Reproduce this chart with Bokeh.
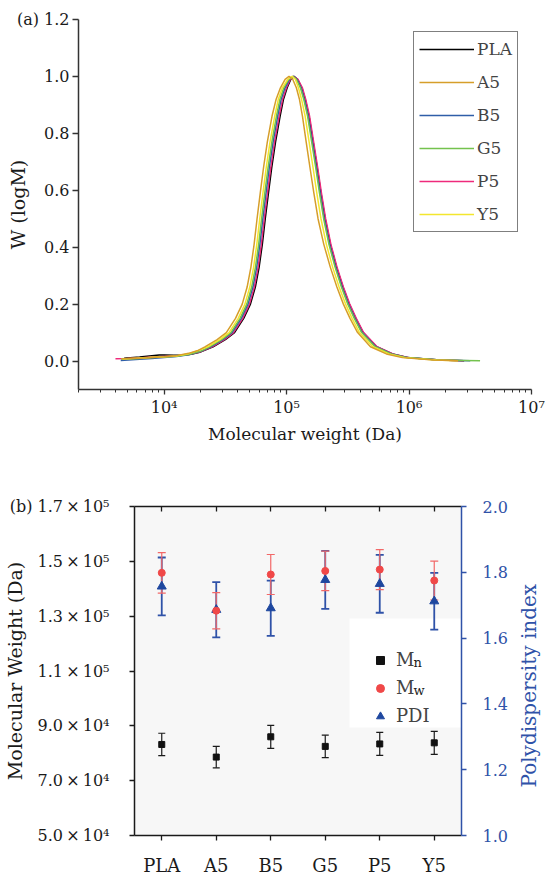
import math
from bokeh.plotting import figure
from bokeh.models import (FixedTicker, CustomJSTickFormatter, NumeralTickFormatter, Legend,
                          LegendItem, Label, LinearAxis, CategoricalAxis, Range1d, FactorRange,
                          Whisker, ColumnDataSource, TeeHead, BoxAnnotation, Title)
from bokeh.layouts import row
from bokeh.embed import file_html
from bokeh.resources import INLINE

# ---------------- data: panel (a) GPC curves, (log10 M, W(logM)) ----------------
pla = [(3.674, 0.010), (3.80, 0.014), (3.90, 0.019), (3.96, 0.021), (4.00, 0.021), (4.08, 0.020),
       (4.15, 0.020), (4.22, 0.024), (4.30, 0.032), (4.40, 0.050), (4.50, 0.075), (4.575, 0.10),
       (4.65, 0.15), (4.705, 0.20), (4.745, 0.26), (4.776, 0.33), (4.802, 0.41), (4.826, 0.50),
       (4.852, 0.59), (4.879, 0.68), (4.910, 0.77), (4.947, 0.86), (4.975, 0.92), (5.005, 0.96),
       (5.035, 0.99), (5.061, 1.00), (5.090, 0.99), (5.125, 0.96), (5.152, 0.92), (5.184, 0.86),
       (5.217, 0.77), (5.250, 0.68), (5.281, 0.59), (5.315, 0.50), (5.358, 0.41), (5.408, 0.33),
       (5.460, 0.26), (5.512, 0.20), (5.565, 0.15), (5.625, 0.10), (5.735, 0.05), (5.865, 0.025),
       (5.995, 0.012), (6.250, 0.004), (6.450, 0.001)]
a5 = [(3.65, 0.008), (3.80, 0.010), (3.90, 0.012), (4.00, 0.015), (4.10, 0.019), (4.20, 0.027),
      (4.27, 0.036), (4.333, 0.05), (4.433, 0.075), (4.508, 0.10), (4.583, 0.15), (4.638, 0.20),
      (4.678, 0.26), (4.709, 0.33), (4.735, 0.41), (4.759, 0.50), (4.785, 0.59), (4.812, 0.68),
      (4.843, 0.77), (4.881, 0.86), (4.915, 0.92), (4.950, 0.96), (4.988, 0.99), (5.020, 1.00),
      (5.050, 0.99), (5.080, 0.96), (5.105, 0.92), (5.130, 0.86), (5.160, 0.77), (5.191, 0.68),
      (5.223, 0.59), (5.257, 0.50), (5.304, 0.41), (5.357, 0.33), (5.411, 0.26), (5.464, 0.20),
      (5.518, 0.15), (5.580, 0.10), (5.685, 0.05), (5.815, 0.025), (5.945, 0.012), (6.20, 0.004),
      (6.40, 0.001)]
b5 = [(3.646, 0.002), (3.80, 0.006), (3.90, 0.009), (4.00, 0.012), (4.10, 0.016), (4.20, 0.022),
      (4.30, 0.034), (4.380, 0.05), (4.480, 0.075), (4.555, 0.10), (4.630, 0.15), (4.685, 0.20),
      (4.725, 0.26), (4.756, 0.33), (4.782, 0.41), (4.806, 0.50), (4.832, 0.59), (4.859, 0.68),
      (4.890, 0.77), (4.927, 0.86), (4.956, 0.92), (4.987, 0.96), (5.024, 0.99), (5.055, 1.00),
      (5.084, 0.99), (5.118, 0.96), (5.145, 0.92), (5.177, 0.86), (5.210, 0.77), (5.243, 0.68),
      (5.274, 0.59), (5.308, 0.50), (5.351, 0.41), (5.401, 0.33), (5.453, 0.26), (5.505, 0.20),
      (5.558, 0.15), (5.618, 0.10), (5.728, 0.05), (5.858, 0.025), (5.988, 0.012), (6.25, 0.004),
      (6.50, 0.001)]
g5 = [(3.65, 0.006), (3.80, 0.009), (3.90, 0.012), (4.00, 0.014), (4.10, 0.017), (4.20, 0.023),
      (4.30, 0.035), (4.370, 0.05), (4.470, 0.075), (4.545, 0.10), (4.620, 0.15), (4.675, 0.20),
      (4.715, 0.26), (4.746, 0.33), (4.772, 0.41), (4.796, 0.50), (4.822, 0.59), (4.849, 0.68),
      (4.880, 0.77), (4.917, 0.86), (4.946, 0.92), (4.977, 0.96), (5.017, 0.99), (5.050, 1.00),
      (5.080, 0.99), (5.113, 0.96), (5.140, 0.92), (5.172, 0.86), (5.205, 0.77), (5.238, 0.68),
      (5.269, 0.59), (5.303, 0.50), (5.346, 0.41), (5.396, 0.33), (5.448, 0.26), (5.500, 0.20),
      (5.553, 0.15), (5.613, 0.10), (5.723, 0.05), (5.853, 0.025), (5.983, 0.012), (6.25, 0.004),
      (6.45, 0.002), (6.58, 0.001)]
p5 = [(3.603, 0.008), (3.70, 0.009), (3.80, 0.011), (3.90, 0.014), (4.00, 0.016), (4.10, 0.018),
      (4.20, 0.023), (4.30, 0.033), (4.392, 0.05), (4.492, 0.075), (4.567, 0.10), (4.642, 0.15),
      (4.697, 0.20), (4.737, 0.26), (4.768, 0.33), (4.794, 0.41), (4.818, 0.50), (4.844, 0.59),
      (4.871, 0.68), (4.902, 0.77), (4.939, 0.86), (4.968, 0.92), (4.999, 0.96), (5.031, 0.99),
      (5.058, 1.00), (5.093, 0.99), (5.129, 0.96), (5.156, 0.92), (5.188, 0.86), (5.221, 0.77),
      (5.254, 0.68), (5.285, 0.59), (5.319, 0.50), (5.362, 0.41), (5.412, 0.33), (5.464, 0.26),
      (5.516, 0.20), (5.569, 0.15), (5.629, 0.10), (5.739, 0.05), (5.869, 0.025), (5.999, 0.012),
      (6.25, 0.004), (6.45, 0.001)]
y5 = [(3.66, 0.007), (3.80, 0.011), (3.90, 0.013), (4.00, 0.015), (4.10, 0.018), (4.20, 0.026),
      (4.30, 0.040), (4.355, 0.05), (4.455, 0.075), (4.530, 0.10), (4.605, 0.15), (4.660, 0.20),
      (4.700, 0.26), (4.731, 0.33), (4.757, 0.41), (4.781, 0.50), (4.807, 0.59), (4.834, 0.68),
      (4.865, 0.77), (4.903, 0.86), (4.933, 0.92), (4.965, 0.96), (5.010, 0.99), (5.045, 1.00),
      (5.072, 0.99), (5.097, 0.96), (5.122, 0.92), (5.152, 0.86), (5.184, 0.77), (5.216, 0.68),
      (5.247, 0.59), (5.281, 0.50), (5.325, 0.41), (5.376, 0.33), (5.429, 0.26), (5.482, 0.20),
      (5.535, 0.15), (5.595, 0.10), (5.705, 0.05), (5.835, 0.025), (5.965, 0.012), (6.22, 0.004),
      (6.40, 0.001)]

series_names = ["PLA", "A5", "B5", "G5", "P5", "Y5"]
series_data = [pla, a5, b5, g5, p5, y5]
series_colors = ["#000000", "#d69e2a", "#2f5ea8", "#74c24e", "#ee2a7b", "#f3e62e"]

w_ticks = [0.0, 0.2, 0.4, 0.6, 0.8, 1.0, 1.2]
m_major = [1e4, 1e5, 1e6, 1e7]
m_minor = [k * 10 ** d for d in (3, 4, 5, 6) for k in range(2, 10)]

# ---------------- data: panel (b) ----------------
cats = ["PLA", "A5", "B5", "G5", "P5", "Y5"]
mn = [83200, 78600, 86000, 82500, 83400, 83800]
mn_err = [4100, 3900, 4200, 4100, 4200, 4200]
mw = [145800, 132000, 145200, 146500, 147000, 143000]
mw_err = [7400, 6600, 7300, 7200, 7300, 7100]
pdi = [1.757, 1.686, 1.691, 1.777, 1.765, 1.712]
pdi_err = [0.088, 0.084, 0.084, 0.088, 0.088, 0.086]
mw_ticks = [5e4, 7e4, 9e4, 1.1e5, 1.3e5, 1.5e5, 1.7e5]
pdi_ticks = [1.0, 1.2, 1.4, 1.6, 1.8, 2.0]

SERIF = "DejaVu Serif"
AX = "#333333"
BLUE = "#2f52a8"
INK = "#1a1a1a"

# ================= panel (a) =================
p1 = figure(width=545, height=460, x_axis_type="log",
            x_range=Range1d(2000, 1e7), y_range=Range1d(-0.1, 1.2),
            output_backend="svg", toolbar_location=None,
            min_border_left=78, min_border_right=14, min_border_top=19, min_border_bottom=71)
p1.outline_line_color = None
p1.grid.visible = False

rmap = {}
draw_order = ["PLA", "P5", "B5", "G5", "Y5", "A5"]
lookup = {n: (d, c) for n, d, c in zip(series_names, series_data, series_colors)}
for name in draw_order:
    data, col = lookup[name]
    xs = [10 ** lm for lm, _ in data]
    ys = [w for _, w in data]
    rmap[name] = p1.line(xs, ys, line_color=col, line_width=1.5, line_join="round")

xa = p1.xaxis[0]
xa.ticker = FixedTicker(ticks=m_major, minor_ticks=m_minor)
xa.formatter = CustomJSTickFormatter(code=r"""
const s = ["\u2070","\u00b9","\u00b2","\u00b3","\u2074","\u2075","\u2076","\u2077","\u2078","\u2079"];
const e = Math.round(Math.log10(tick));
return "10" + s[e];
""")
xa.axis_label = "Molecular weight (Da)"
ya = p1.yaxis[0]
ya.ticker = FixedTicker(ticks=w_ticks)
ya.formatter = CustomJSTickFormatter(code=r"""
const s = tick.toFixed(1);
return (tick > 1.15) ? "(a) " + s : s;
""")
ya.axis_label = "W (logM)"
for ax in (xa, ya):
    ax.axis_line_color = AX
    ax.axis_line_width = 1.5
    ax.major_tick_line_color = AX
    ax.major_tick_line_width = 1.3
    ax.minor_tick_line_color = AX
    ax.major_tick_in = 0
    ax.minor_tick_in = 0
    ax.major_label_text_font = SERIF
    ax.major_label_text_font_size = "16px"
    ax.major_label_text_color = INK
    ax.axis_label_text_font = SERIF
    ax.axis_label_text_font_style = "normal"
    ax.axis_label_text_color = INK
xa.major_tick_out = 5
xa.minor_tick_out = 3
xa.major_label_standoff = 3
xa.axis_label_text_font_size = "17px"
xa.axis_label_standoff = 4
ya.major_tick_out = 6
ya.minor_tick_line_color = None
ya.major_label_standoff = 3
ya.axis_label_text_font_size = "19px"
ya.axis_label_standoff = -15

leg1 = Legend(items=[LegendItem(label=n, renderers=[rmap[n]]) for n in series_names],
              location=(335, 157), padding=5, spacing=9, glyph_height=24, glyph_width=55,
              label_height=24, label_standoff=3, margin=0,
              label_text_font=SERIF, label_text_font_size="17px",
              border_line_color="black", border_line_width=1.5,
              background_fill_color="white", background_fill_alpha=1.0)
p1.add_layout(leg1)

# ================= panel (b) =================
p2 = figure(width=510, height=420, x_range=FactorRange(*cats), y_range=Range1d(5e4, 1.7e5),
            output_backend="svg", toolbar_location=None,
            min_border_left=132, min_border_right=47, min_border_top=46, min_border_bottom=45)
p2.extra_y_ranges = {"pdi": Range1d(1.0, 2.0)}
p2.outline_line_color = None
p2.grid.visible = False
p2.background_fill_color = "#f7f7f7"

# white patch behind the legend
p2.add_layout(BoxAnnotation(left=215, right=329, bottom=108, top=217,
                            left_units="screen", right_units="screen",
                            bottom_units="screen", top_units="screen",
                            fill_color="white", fill_alpha=1.0, line_color=None,
                            level="underlay"))

src_mn = ColumnDataSource(dict(x=cats, y=mn,
                               lo=[v - e for v, e in zip(mn, mn_err)],
                               hi=[v + e for v, e in zip(mn, mn_err)]))
src_mw = ColumnDataSource(dict(x=cats, y=mw,
                               lo=[v - e for v, e in zip(mw, mw_err)],
                               hi=[v + e for v, e in zip(mw, mw_err)]))
src_pdi = ColumnDataSource(dict(x=cats, y=pdi,
                                lo=[v - e for v, e in zip(pdi, pdi_err)],
                                hi=[v + e for v, e in zip(pdi, pdi_err)]))

p2.add_layout(Whisker(source=src_pdi, base="x", lower="lo", upper="hi", y_range_name="pdi",
                      line_color=BLUE, line_width=1.8,
                      upper_head=TeeHead(size=8, line_color=BLUE, line_width=1.8),
                      lower_head=TeeHead(size=8, line_color=BLUE, line_width=1.8)))
p2.add_layout(Whisker(source=src_mw, base="x", lower="lo", upper="hi",
                      line_color="#f26868", line_width=1.2,
                      upper_head=TeeHead(size=8, line_color="#f26868", line_width=1.2),
                      lower_head=TeeHead(size=8, line_color="#f26868", line_width=1.2)))
p2.add_layout(Whisker(source=src_mn, base="x", lower="lo", upper="hi",
                      line_color=INK, line_width=1.2,
                      upper_head=TeeHead(size=7, line_color=INK, line_width=1.2),
                      lower_head=TeeHead(size=7, line_color=INK, line_width=1.2)))

r_pdi = p2.scatter(x="x", y="y", source=src_pdi, marker="triangle", size=9,
                   fill_color="#1e479f", line_color="#1e479f", y_range_name="pdi")
r_mw = p2.scatter(x="x", y="y", source=src_mw, marker="circle", size=7,
                  fill_color="#f04848", line_color="#f04848")
r_mn = p2.scatter(x="x", y="y", source=src_mn, marker="square", size=6,
                  fill_color="#111111", line_color="#111111")

bx = p2.xaxis[0]
ly = p2.yaxis[0]
ly.ticker = FixedTicker(ticks=mw_ticks)
ly.formatter = CustomJSTickFormatter(code=r"""
const sup = {4: "\u2074", 5: "\u2075"};
const e = Math.floor(Math.log10(tick) + 1e-9);
const m = tick / Math.pow(10, e);
const s = m.toFixed(1) + "\u2009\u00d7\u200910" + sup[e];
return (index == ticks.length - 1) ? "(b) " + s : s;
""")
ly.axis_label = "Molecular Weight (Da)"
ly.axis_label_text_font = SERIF
ly.axis_label_text_font_style = "normal"
ly.axis_label_text_font_size = "19px"
ly.axis_label_text_color = INK
ly.axis_label_standoff = -19
ly.major_label_standoff = 20

ry = LinearAxis(y_range_name="pdi", ticker=FixedTicker(ticks=pdi_ticks),
                formatter=NumeralTickFormatter(format="0.0"))
p2.add_layout(ry, "right")
ry.major_label_standoff = 16

top = CategoricalAxis()
p2.add_layout(top, "above")

for ax in (bx, ly, top):
    ax.axis_line_color = INK
    ax.major_tick_line_color = INK
for ax in (bx, ly, ry, top):
    ax.axis_line_width = 1.5
    ax.major_tick_line_width = 1.3
    ax.major_tick_in = 0
    ax.major_tick_out = 5
    ax.minor_tick_line_color = None
    ax.major_label_text_font = SERIF
    ax.major_label_text_font_size = "16px"
top.major_tick_in = 5
top.major_tick_out = 0
top.major_label_text_font_size = "1px"
top.major_label_text_color = None
top.major_label_standoff = 0
ly.major_label_text_color = INK
bx.major_label_text_color = INK
bx.major_label_text_font_size = "18px"
bx.major_label_standoff = 14
ry.axis_line_color = BLUE
ry.major_tick_line_color = BLUE
ry.major_label_text_color = BLUE

leg2 = Legend(items=[LegendItem(label="M", renderers=[r_mn]),
                     LegendItem(label="M", renderers=[r_mw]),
                     LegendItem(label="PDI", renderers=[r_pdi])],
              location=(236, 109), padding=10, spacing=7, glyph_height=20, glyph_width=20,
              label_height=20, label_standoff=6, margin=0,
              label_text_font=SERIF, label_text_font_size="18px",
              border_line_color=None, background_fill_alpha=0.0)
p2.add_layout(leg2)
p2.add_layout(Label(x=279, y=173.5, x_units="screen", y_units="screen", text="n",
                    text_font=SERIF, text_font_size="13px", text_baseline="alphabetic",
                    text_color=INK, level="overlay"))
p2.add_layout(Label(x=279, y=145.5, x_units="screen", y_units="screen", text="w",
                    text_font=SERIF, text_font_size="13px", text_baseline="alphabetic",
                    text_color=INK, level="overlay"))

# strip to the right of panel (b) holding its right-axis title (reads bottom-to-top)
p3 = figure(width=35, height=420, x_axis_location=None, y_axis_location=None,
            output_backend="svg", toolbar_location=None,
            min_border_left=30, min_border_right=0, min_border_top=46, min_border_bottom=45)
p3.outline_line_color = None
p3.grid.visible = False
p3.add_layout(Title(text="Polydispersity index", align="left", offset=48, standoff=0,
                    text_font=SERIF, text_font_size="20px", text_font_style="normal",
                    text_color=BLUE), "left")

html = file_html([p1, row(p2, p3)], INLINE)
with open("out.html", "w", encoding="utf-8") as f:
    f.write(html)
